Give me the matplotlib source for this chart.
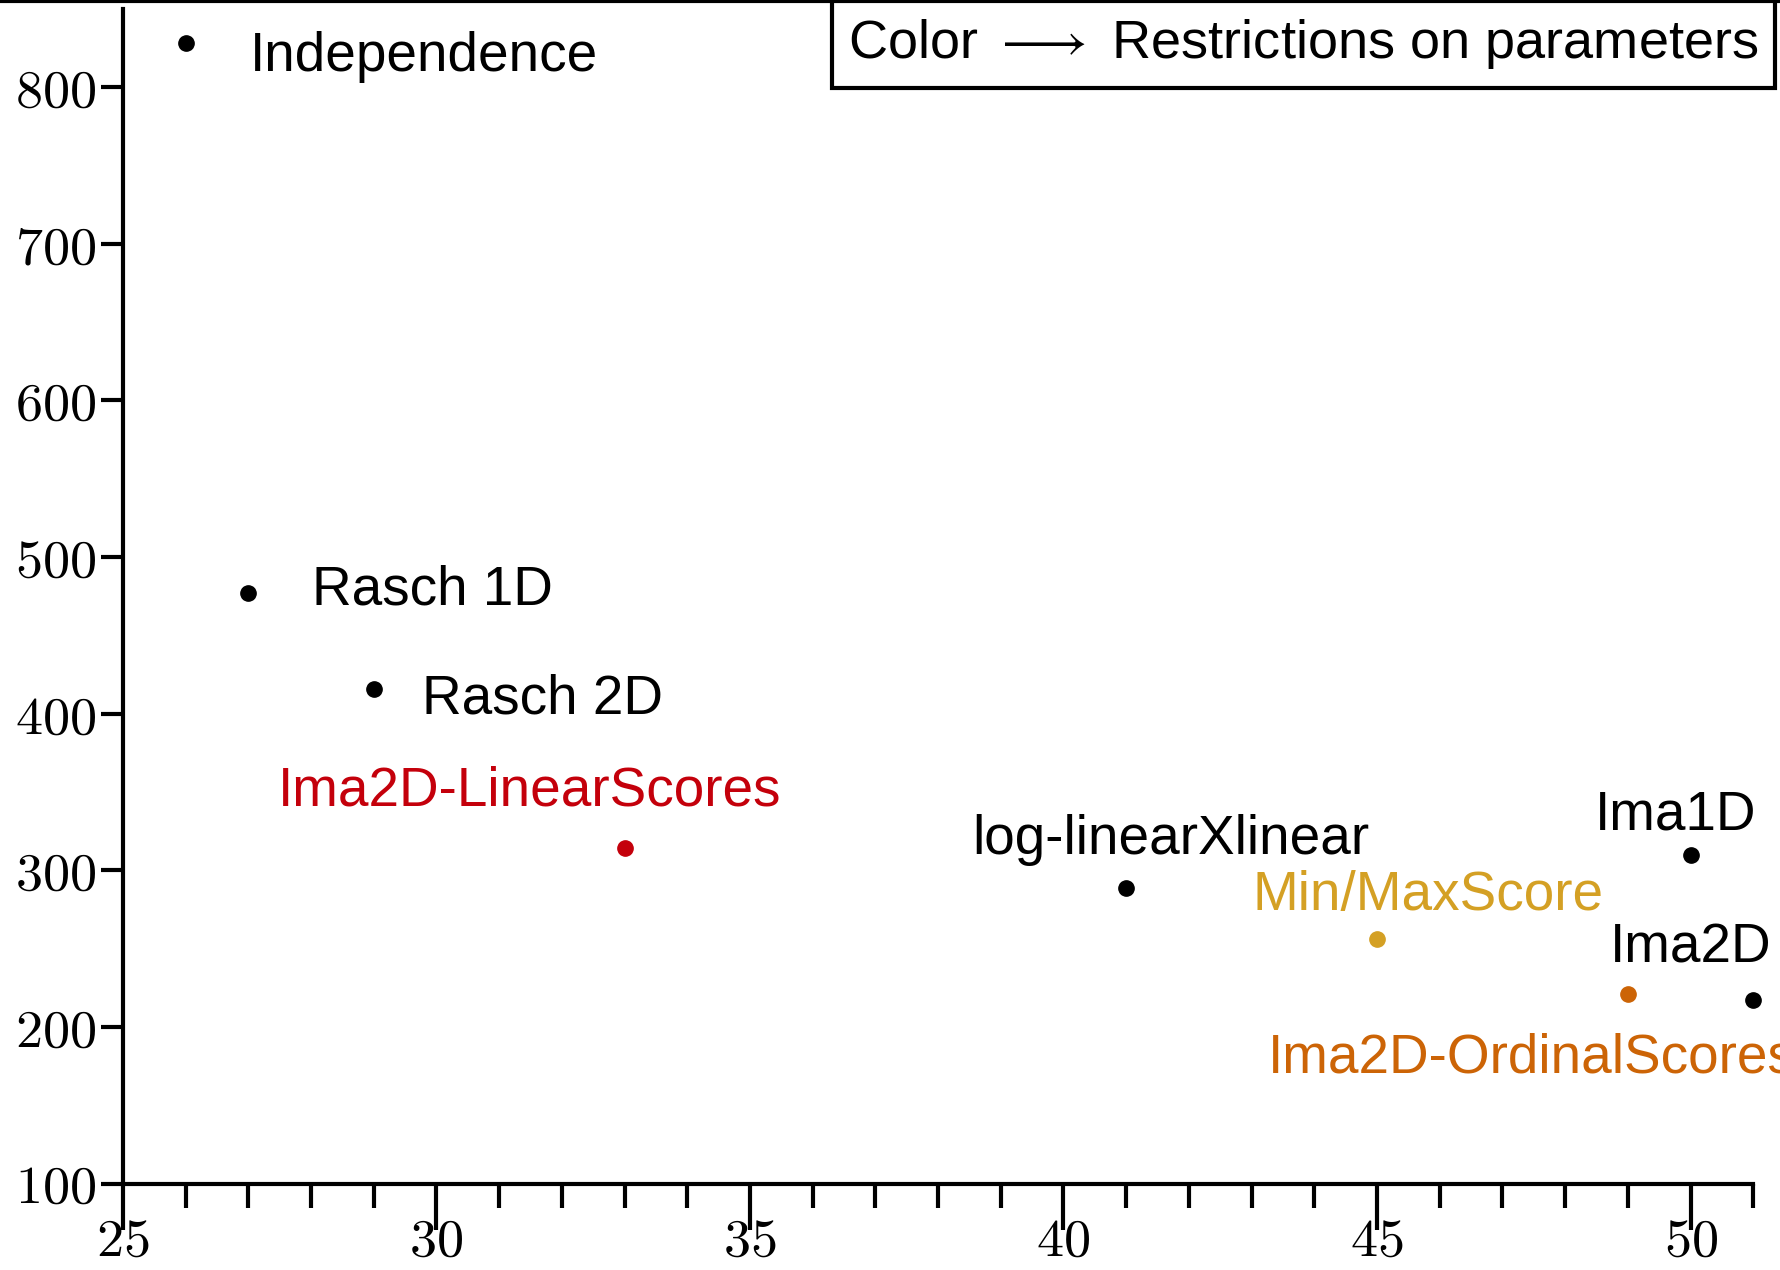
import matplotlib
matplotlib.use('Agg')
import matplotlib.pyplot as plt
from matplotlib.lines import Line2D
from matplotlib.ticker import MultipleLocator, FuncFormatter

plt.rcParams['mathtext.fontset'] = 'cm'
plt.rcParams['font.family'] = ['Liberation Sans', 'DejaVu Sans']

# model fit results: x = number of parameters, y = fit statistic
models = ['Independence', 'Rasch 1D', 'Rasch 2D', 'Ima2D-LinearScores',
          'log-linearXlinear', 'Min/MaxScore', 'Ima1D', 'Ima2D-OrdinalScores', 'Ima2D']
n_params = [26, 27, 29, 33, 41, 45, 50, 49, 51]
stat = [828, 477, 416, 314, 289, 256, 310, 221, 217]
colors = ['black', 'black', 'black', '#c4000b', 'black', '#d4a024', 'black', '#cc6406', 'black']

# label offsets in points (dx, dy, ha)
offsets = [(46, -10, 'left'), (46, 2, 'left'), (35, -7.5, 'left'), (-68, 41, 'center'),
           (32, 34, 'center'), (37, 31, 'center'), (-11, 28, 'center'),
           (-259, -46, 'left'), (-45, 37, 'center')]

fig = plt.figure(figsize=(17.8, 12.7), dpi=100)
ax = fig.add_axes([0.069, 0.068, 0.916, 0.925])

for x, y, c in zip(n_params, stat, colors):
    ax.plot(x, y, 'o', color=c, markersize=11, clip_on=False, zorder=3)

for name, x, y, c, (dx, dy, ha) in zip(models, n_params, stat, colors, offsets):
    ax.annotate(name, (x, y), xytext=(dx, dy), textcoords='offset points',
                ha=ha, va='center', fontsize=39.5, color=c, annotation_clip=False)

ax.set_xlim(25, 51)
ax.set_ylim(100, 850)
ax.xaxis.set_major_locator(MultipleLocator(5))
ax.xaxis.set_minor_locator(MultipleLocator(1))
ax.yaxis.set_major_locator(MultipleLocator(100))
fmt = FuncFormatter(lambda v, p: r'$%d$' % v)
ax.xaxis.set_major_formatter(fmt)
ax.yaxis.set_major_formatter(fmt)

for s in ['top', 'right']:
    ax.spines[s].set_visible(False)
for s in ['left', 'bottom']:
    ax.spines[s].set_linewidth(3)

ax.tick_params(axis='x', which='major', length=33, width=3, labelsize=39, pad=-9)
ax.tick_params(axis='x', which='minor', length=17, width=3)
ax.tick_params(axis='y', which='major', length=16, width=3, labelsize=39, pad=3)

# legend-like note in the top right corner
fig.text(0.988, 0.965, r'Color $\longrightarrow$ Restrictions on parameters', fontsize=39,
         ha='right', va='center',
         bbox=dict(boxstyle='square,pad=0.3', fc='white', ec='black', lw=3))

# thin frame line along the top edge
fig.add_artist(Line2D([0, 1], [0.999, 0.999], color='black', lw=3, transform=fig.transFigure))

fig.savefig('out.png', dpi=100)
